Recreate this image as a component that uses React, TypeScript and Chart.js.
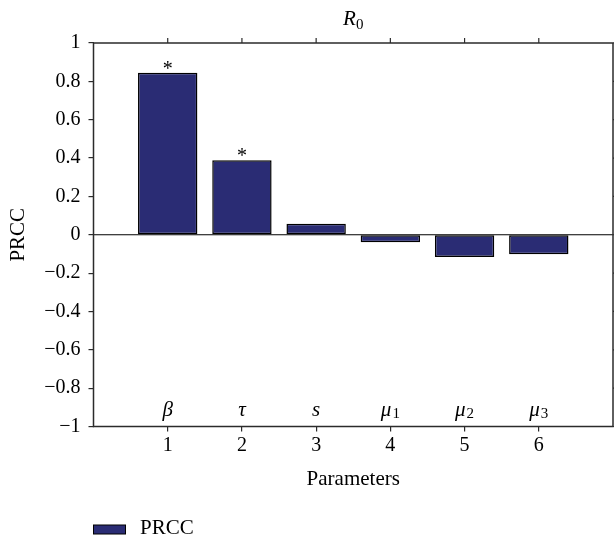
import React, { useEffect, useRef } from 'react';
import { Chart, registerables } from 'chart.js';

Chart.register(...registerables);

// ---- data ----
const PARAM_INDEX = [1, 2, 3, 4, 5, 6];
const PRCC_VALUES = [0.845, 0.389, 0.058, -0.039, -0.116, -0.102];
const PARAM_SYMBOLS = ['β', 'τ', 's', 'μ', 'μ', 'μ'];
const PARAM_SUBSCRIPTS = ['', '', '', '1', '2', '3'];
const SIGNIFICANT = [true, true, false, false, false, false];
const X_TICKS = [1, 2, 3, 4, 5, 6];
const Y_TICKS = [-1, -0.8, -0.6, -0.4, -0.2, 0, 0.2, 0.4, 0.6, 0.8, 1];
const TITLE_MAIN = 'R';
const TITLE_SUB = '0';
const SERIES_LABEL = 'PRCC';
const X_LABEL = 'Parameters';
const Y_LABEL = 'PRCC';

// ---- styles ----
const SERIF = "'Liberation Serif', 'Times New Roman', serif";
const BAR_COLOR = '#2a2c74';
const FRAME_COLOR = '#2b2b2b';

const fmtY = (v: number) => {
  const r = Math.round(v * 10) / 10;
  if (r === 0) return '0';
  return (r < 0 ? '\u2212' : '') + String(Math.abs(r));
};

const decorPlugin = {
  id: 'decor',
  afterDatasetsDraw(chart: any) {
    const { ctx, chartArea: a, scales } = chart;
    const x = scales.x;
    const y = scales.y;
    ctx.save();
    const line = (x1: number, y1: number, x2: number, y2: number) => {
      ctx.beginPath();
      ctx.moveTo(x1, y1);
      ctx.lineTo(x2, y2);
      ctx.stroke();
    };
    // zero line
    const y0 = y.getPixelForValue(0);
    ctx.strokeStyle = '#000';
    ctx.lineWidth = 1.2;
    line(a.left, y0, a.right, y0);
    // frame
    ctx.strokeStyle = FRAME_COLOR;
    ctx.lineWidth = 1.5;
    ctx.strokeRect(a.left, a.top, a.right - a.left, a.bottom - a.top);
    // top & right ticks
    ctx.lineWidth = 1.2;
    X_TICKS.forEach((v) => {
      const px = x.getPixelForValue(v);
      line(px, a.top, px, a.top - 5);
    });
    Y_TICKS.forEach((v) => {
      const py = y.getPixelForValue(v);
      line(a.right, py, a.right + 5, py);
    });
    // significance stars
    ctx.fillStyle = '#000';
    ctx.textAlign = 'center';
    ctx.textBaseline = 'alphabetic';
    ctx.font = `20px ${SERIF}`;
    PRCC_VALUES.forEach((v, i) => {
      if (!SIGNIFICANT[i]) return;
      const px = x.getPixelForValue(PARAM_INDEX[i]);
      const py = y.getPixelForValue(v);
      ctx.fillText('*', px, py + 2);
    });
    // parameter symbols
    ctx.textAlign = 'left';
    PARAM_INDEX.forEach((p, i) => {
      const px = x.getPixelForValue(p);
      ctx.font = `italic 21px ${SERIF}`;
      const w1 = ctx.measureText(PARAM_SYMBOLS[i]).width;
      ctx.font = `15px ${SERIF}`;
      const w2 = PARAM_SUBSCRIPTS[i] ? ctx.measureText(PARAM_SUBSCRIPTS[i]).width + 1 : 0;
      const sx = px - (w1 + w2) / 2;
      const by = a.bottom - 11;
      ctx.font = `italic 21px ${SERIF}`;
      ctx.fillText(PARAM_SYMBOLS[i], sx, by);
      if (PARAM_SUBSCRIPTS[i]) {
        ctx.font = `15px ${SERIF}`;
        ctx.fillText(PARAM_SUBSCRIPTS[i], sx + w1 + 1, by + 2);
      }
    });
    // title
    ctx.font = `italic 21px ${SERIF}`;
    const tw1 = ctx.measureText(TITLE_MAIN).width;
    ctx.font = `15px ${SERIF}`;
    const tw2 = ctx.measureText(TITLE_SUB).width;
    const tcx = (a.left + a.right) / 2;
    const tsx = tcx - (tw1 + tw2) / 2;
    ctx.font = `italic 21px ${SERIF}`;
    ctx.fillText(TITLE_MAIN, tsx, 25);
    ctx.font = `15px ${SERIF}`;
    ctx.fillText(TITLE_SUB, tsx + tw1, 29);
    // legend
    const ds = chart.data.datasets[0];
    ctx.fillStyle = ds.backgroundColor;
    ctx.strokeStyle = '#000';
    ctx.lineWidth = 1;
    ctx.fillRect(a.left, 525, 32, 9);
    ctx.strokeRect(a.left, 525, 32, 9);
    ctx.fillStyle = '#000';
    ctx.font = `21px ${SERIF}`;
    ctx.fillText(ds.label, a.left + 46.5, 534);
    ctx.restore();
  },
};

export default function App() {
  const ref = useRef<HTMLCanvasElement | null>(null);
  useEffect(() => {
    if (!ref.current) return;
    const chart = new Chart(ref.current, {
      type: 'bar',
      data: {
        datasets: [
          {
            label: SERIES_LABEL,
            data: PARAM_INDEX.map((p, i) => ({ x: p, y: PRCC_VALUES[i] })),
            backgroundColor: BAR_COLOR,
            borderColor: '#000',
            borderWidth: 1.5,
            borderSkipped: false,
            barPercentage: 0.8,
            categoryPercentage: 1,
          },
        ],
      },
      options: {
        responsive: false,
        animation: false,
        devicePixelRatio: 1,
        layout: { padding: { top: 43, right: 1, left: 0, bottom: 0 } },
        plugins: {
          legend: { display: false },
          tooltip: { enabled: false },
        },
        scales: {
          x: {
            type: 'linear',
            min: 0,
            max: 7,
            offset: false,
            afterBuildTicks: (s: any) => {
              s.ticks = X_TICKS.map((v) => ({ value: v }));
            },
            afterFit: (s: any) => {
              s.height = 111.5;
            },
            ticks: {
              color: '#000',
              font: { family: SERIF, size: 20, lineHeight: 1 },
              padding: 4.5,
              maxRotation: 0,
              callback: (v: any) => String(v),
            },
            grid: {
              display: true,
              offset: false,
              drawOnChartArea: false,
              drawTicks: true,
              tickLength: 5,
              color: FRAME_COLOR,
              lineWidth: 1.2,
            },
            border: { display: false },
            title: {
              display: true,
              text: X_LABEL,
              color: '#000',
              font: { family: SERIF, size: 21 },
              padding: { top: 0, bottom: 45.8 },
            },
          },
          y: {
            type: 'linear',
            min: -1,
            max: 1,
            afterBuildTicks: (s: any) => {
              s.ticks = Y_TICKS.map((v) => ({ value: v }));
            },
            afterFit: (s: any) => {
              s.width = 93.5;
            },
            ticks: {
              color: '#000',
              font: { family: SERIF, size: 20 },
              padding: 8,
              callback: (v: any) => fmtY(Number(v)),
            },
            grid: {
              display: true,
              drawOnChartArea: false,
              drawTicks: true,
              tickLength: 5,
              color: FRAME_COLOR,
              lineWidth: 1.2,
            },
            border: { display: false },
            title: {
              display: true,
              text: Y_LABEL,
              color: '#000',
              font: { family: SERIF, size: 21 },
              padding: { top: 5.4, bottom: 0 },
            },
          },
        },
      },
      plugins: [decorPlugin],
    } as any);
    return () => chart.destroy();
  }, []);
  return (
    <div style={{ position: 'fixed', left: 0, top: 0, width: 614, height: 538, background: '#fff' }}>
      <canvas ref={ref} width={614} height={538} />
    </div>
  );
}
